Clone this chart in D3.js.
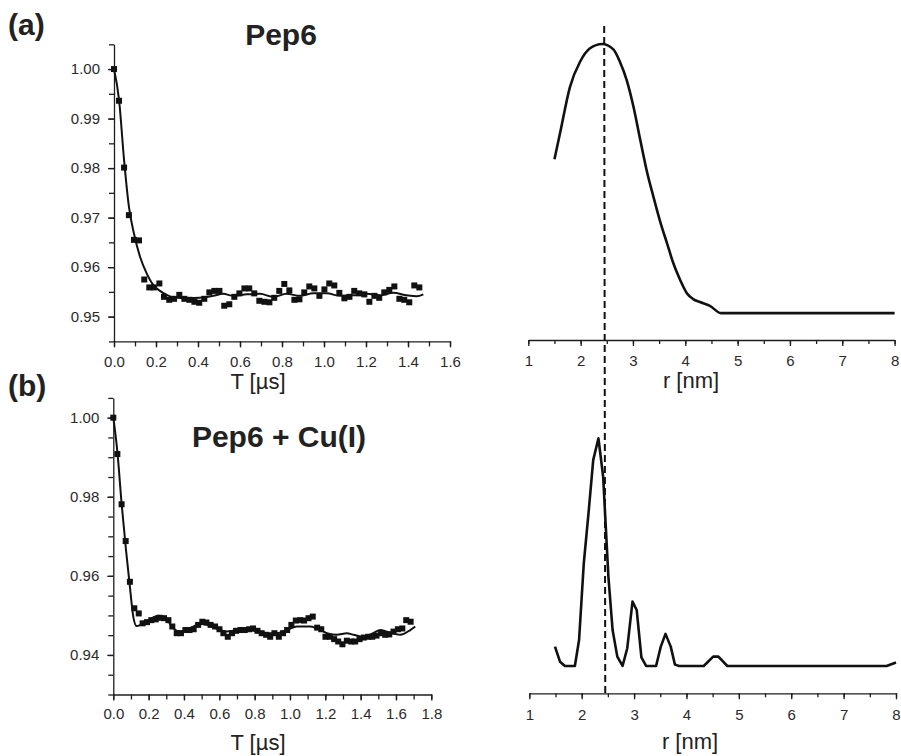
<!DOCTYPE html>
<html>
<head>
<meta charset="utf-8">
<script src="https://cdn.jsdelivr.net/npm/d3@7"></script>
<style>
  body { margin: 0; background: #fff; }
  svg { display: block; font-family: "Liberation Sans", Arial, sans-serif; }
</style>
</head>
<body>
<svg id="chart"></svg>
<script>
// ---- data ----
// (a) Pep6, time trace: measured points
const tA = [0, 0.024, 0.048, 0.071, 0.095, 0.119, 0.144, 0.168, 0.19, 0.216, 0.238, 0.263, 0.286, 0.311, 0.335, 0.359, 0.383, 0.406, 0.43, 0.454, 0.478, 0.502, 0.525, 0.549, 0.573, 0.597, 0.621, 0.644, 0.668, 0.692, 0.716, 0.74, 0.763, 0.787, 0.811, 0.835, 0.859, 0.883, 0.906, 0.93, 0.954, 0.978, 1.002, 1.025, 1.049, 1.073, 1.097, 1.121, 1.144, 1.168, 1.192, 1.216, 1.24, 1.263, 1.287, 1.311, 1.335, 1.359, 1.382, 1.406, 1.43, 1.454];
const vA = [1.000, 0.9936, 0.9801, 0.9705, 0.9655, 0.9654, 0.9575, 0.9559, 0.9559, 0.9567, 0.9540, 0.9534, 0.9536, 0.9544, 0.9536, 0.9534, 0.9530, 0.9528, 0.9536, 0.9549, 0.9552, 0.9552, 0.9522, 0.9525, 0.9540, 0.9547, 0.9557, 0.9557, 0.9547, 0.9532, 0.9530, 0.9529, 0.9538, 0.9552, 0.9566, 0.9553, 0.9534, 0.9535, 0.9549, 0.9561, 0.9557, 0.9542, 0.9555, 0.9567, 0.9563, 0.9548, 0.9537, 0.9540, 0.9552, 0.9547, 0.9545, 0.9530, 0.9542, 0.9538, 0.9549, 0.9554, 0.9561, 0.9536, 0.9534, 0.9529, 0.9563, 0.9559];
// (a) fit
const fitTA = [0, 0.024, 0.048, 0.071, 0.095, 0.124, 0.155, 0.187, 0.219, 0.251, 0.283, 0.346, 0.409, 0.473, 0.52, 0.568, 0.632, 0.695, 0.759, 0.822, 0.886, 0.949, 1.013, 1.076, 1.14, 1.203, 1.267, 1.33, 1.394, 1.441, 1.473];
const fitVA = [1.0, 0.9938, 0.9816, 0.9722, 0.9668, 0.9621, 0.9588, 0.9564, 0.9552, 0.9544, 0.9539, 0.9537, 0.9538, 0.9542, 0.9546, 0.9542, 0.9545, 0.9546, 0.9540, 0.9546, 0.9542, 0.9547, 0.9547, 0.9542, 0.9543, 0.9546, 0.9543, 0.9548, 0.9543, 0.9541, 0.9545];

// (b) Pep6 + Cu(I), time trace: measured points
const tB = [0, 0.023, 0.047, 0.07, 0.094, 0.119, 0.144, 0.166, 0.191, 0.215, 0.24, 0.263, 0.287, 0.312, 0.334, 0.359, 0.383, 0.408, 0.431, 0.455, 0.48, 0.504, 0.527, 0.551, 0.576, 0.601, 0.623, 0.648, 0.672, 0.695, 0.72, 0.744, 0.769, 0.791, 0.816, 0.84, 0.865, 0.888, 0.912, 0.937, 0.961, 0.984, 1.008, 1.033, 1.058, 1.08, 1.105, 1.129, 1.154, 1.177, 1.201, 1.226, 1.25, 1.273, 1.297, 1.322, 1.347, 1.369, 1.394, 1.418, 1.443, 1.466, 1.49, 1.515, 1.539, 1.562, 1.586, 1.611, 1.636, 1.658, 1.683];
const vB = [1.000, 0.9908, 0.9781, 0.9688, 0.9585, 0.9518, 0.9505, 0.9480, 0.9483, 0.9488, 0.9490, 0.9494, 0.9493, 0.9488, 0.9472, 0.9455, 0.9455, 0.9463, 0.9463, 0.9465, 0.9476, 0.9484, 0.9482, 0.9476, 0.9472, 0.9465, 0.9455, 0.9446, 0.9455, 0.9461, 0.9463, 0.9463, 0.9465, 0.9467, 0.9461, 0.9455, 0.9451, 0.9446, 0.9455, 0.9446, 0.9455, 0.9463, 0.9476, 0.9487, 0.9488, 0.9487, 0.9493, 0.9497, 0.9469, 0.9465, 0.9446, 0.9446, 0.9440, 0.9434, 0.9427, 0.9436, 0.9434, 0.9434, 0.9440, 0.9444, 0.9446, 0.9446, 0.9449, 0.9455, 0.9451, 0.9452, 0.9459, 0.9465, 0.9467, 0.9488, 0.9484];
// (b) fit
const fitTB = [0, 0.023, 0.047, 0.072, 0.094, 0.113, 0.132, 0.161, 0.208, 0.255, 0.293, 0.34, 0.378, 0.415, 0.472, 0.51, 0.567, 0.642, 0.718, 0.793, 0.869, 0.925, 0.982, 1.039, 1.114, 1.152, 1.209, 1.265, 1.322, 1.36, 1.416, 1.454, 1.511, 1.549, 1.624, 1.681, 1.709];
const fitVB = [1.0, 0.9914, 0.9783, 0.9665, 0.9572, 0.9497, 0.9473, 0.9478, 0.9490, 0.9499, 0.9495, 0.9467, 0.9459, 0.9462, 0.9476, 0.9478, 0.9470, 0.9459, 0.9463, 0.9462, 0.9455, 0.9455, 0.9463, 0.9472, 0.9472, 0.9467, 0.9455, 0.9451, 0.9455, 0.9451, 0.9446, 0.9451, 0.9463, 0.9459, 0.9451, 0.9463, 0.9472];

// distance distributions (normalised to peak = 1)
const rA = [1.5, 1.606, 1.797, 1.989, 2.18, 2.41, 2.625, 2.75, 2.88, 3.01, 3.14, 3.26, 3.39, 3.52, 3.65, 3.77, 3.9, 4.03, 4.15, 4.28, 4.47, 4.68, 8.0];
const pA = [0.572, 0.668, 0.841, 0.934, 0.984, 1.0, 0.98, 0.934, 0.866, 0.767, 0.643, 0.532, 0.433, 0.34, 0.26, 0.186, 0.124, 0.074, 0.052, 0.041, 0.027, 0, 0];
const rB = [1.49, 1.586, 1.68, 1.87, 1.95, 2.04, 2.13, 2.22, 2.32, 2.41, 2.51, 2.59, 2.68, 2.78, 2.87, 2.97, 3.05, 3.14, 3.23, 3.42, 3.51, 3.6, 3.7, 3.78, 3.86, 4.33, 4.51, 4.61, 4.78, 7.82, 8.0];
const pB = [0.085, 0.019, 0, 0, 0.114, 0.451, 0.67, 0.904, 1.0, 0.831, 0.392, 0.158, 0.041, 0, 0.078, 0.283, 0.246, 0.038, 0, 0, 0.085, 0.141, 0.085, 0.006, 0, 0, 0.041, 0.041, 0, 0, 0.015];

const markerR = 2.45;

const ticksTA = [0, 0.2, 0.4, 0.6, 0.8, 1.0, 1.2, 1.4, 1.6];
const ticksTB = [0, 0.2, 0.4, 0.6, 0.8, 1.0, 1.2, 1.4, 1.6, 1.8];
const ticksVA = [0.95, 0.96, 0.97, 0.98, 0.99, 1.00];
const ticksVB = [0.94, 0.96, 0.98, 1.00];
const ticksR = [1, 2, 3, 4, 5, 6, 7, 8];

// ---- layout ----
const WIDTH = 901;
const HEIGHT = 756;
const INK = '#1e1e1e';

const svg = d3.select('#chart').attr('width', WIDTH).attr('height', HEIGHT);

const xA = d3.scaleLinear().domain([0, 1.6]).range([114, 450]);
const yA = d3.scaleLinear().domain([0.945, 1.005]).range([341.4, 44.3]);
const xB = d3.scaleLinear().domain([0, 1.8]).range([113.3, 431.3]);
const yB = d3.scaleLinear().domain([0.93, 1.005]).range([694.5, 397.9]);
const xRA = d3.scaleLinear().domain([1, 8]).range([528.3, 894.6]);
const yRA = d3.scaleLinear().domain([-0.1, 1]).range([340, 44]);
const xRB = d3.scaleLinear().domain([1, 8]).range([529.3, 896]);
const yRB = d3.scaleLinear().domain([-0.12, 1]).range([693.3, 438.3]);

function minorValues(lo, hi, step) {
  const out = [];
  const n = Math.round((hi - lo) / step);
  for (let i = 0; i <= n; i++) out.push(+(lo + i * step).toFixed(4));
  return out;
}

function styleAxis(g, size) {
  g.select('.domain').attr('stroke', INK).attr('stroke-width', 1.3);
  g.selectAll('.tick line').attr('stroke', INK).attr('stroke-width', 1.3);
  g.selectAll('.tick text').attr('fill', '#2a2a2a').attr('font-size', size).attr('font-family', null);
}

function xAxisAt(x, yPos, majors, minors, fmt, pad, minorLen) {
  svg.append('g').
  attr('transform', `translate(0,${yPos})`).
  call(d3.axisBottom(x).tickValues(minors).tickSize(minorLen).tickSizeOuter(0).tickFormat('')).
  call(g => styleAxis(g, 15));
  svg.append('g').
  attr('transform', `translate(0,${yPos})`).
  call(d3.axisBottom(x).tickValues(majors).tickSize(6).tickSizeOuter(0).tickPadding(pad).tickFormat(fmt)).
  call(g => styleAxis(g, 15)).
  call(g => g.select('.domain').remove());
}

function yAxisAt(y, xPos, majors, minors) {
  svg.append('g').
  attr('transform', `translate(${xPos},0)`).
  call(d3.axisLeft(y).tickValues(minors).tickSize(5).tickSizeOuter(0).tickFormat('')).
  call(g => styleAxis(g, 15));
  svg.append('g').
  attr('transform', `translate(${xPos},0)`).
  call(d3.axisLeft(y).tickValues(majors).tickSize(6).tickSizeOuter(0).tickPadding(8).tickFormat(d3.format('.2f'))).
  call(g => styleAxis(g, 15)).
  call(g => g.select('.domain').remove());
}

/* --AXES-- */
xAxisAt(xA, 341.4, ticksTA, minorValues(0, 1.6, 0.1), d3.format('.1f'), 9, 5);
yAxisAt(yA, 114, ticksVA, minorValues(0.945, 1.005, 0.005));
xAxisAt(xB, 694.5, ticksTB, minorValues(0, 1.8, 0.1), d3.format('.1f'), 8, 5);
yAxisAt(yB, 113.3, ticksVB, minorValues(0.93, 1.005, 0.005));
xAxisAt(xRA, 340, ticksR, minorValues(1, 8, 0.5), d3.format('d'), 9, 4);
xAxisAt(xRB, 693.3, ticksR, minorValues(1, 8, 0.5), d3.format('d'), 10.5, 4);

/* --DATA-- */
function squares(t, v, x, y) {
  svg.append('g').selectAll('rect').
  data(t.map((d, i) => ({ t: d, v: v[i] }))).
  enter().append('rect').
  attr('x', d => x(d.t) - 3).
  attr('y', d => y(d.v) - 3).
  attr('width', 6).
  attr('height', 6).
  attr('fill', '#111');
}

function curve(xs, ys, x, y, width, shape) {
  const line = d3.line().x(d => x(d[0])).y(d => y(d[1])).curve(shape);
  svg.append('path').
  attr('d', line(xs.map((d, i) => [d, ys[i]]))).
  attr('fill', 'none').
  attr('stroke', '#111').
  attr('stroke-width', width).
  attr('stroke-linejoin', 'round');
}

squares(tA, vA, xA, yA);
curve(fitTA, fitVA, xA, yA, 2, d3.curveMonotoneX);
squares(tB, vB, xB, yB);
curve(fitTB, fitVB, xB, yB, 2, d3.curveMonotoneX);

curve(rA, pA, xRA, yRA, 2.6, d3.curveMonotoneX);
curve(rB, pB, xRB, yRB, 2.6, d3.curveLinear);

// dashed marker spanning both distance panels
svg.append('line').
attr('x1', xRA(markerR)).
attr('y1', 26).
attr('x2', xRB(markerR)).
attr('y2', 693).
attr('stroke', '#111').
attr('stroke-width', 2).
attr('stroke-dasharray', '7,4');

/* --TEXT-- */
const texts = [
{ s: '(a)', x: 8, y: 35, size: 30, bold: true, anchor: 'start' },
{ s: '(b)', x: 8, y: 396, size: 30, bold: true, anchor: 'start' },
{ s: 'Pep6', x: 281, y: 45, size: 30, bold: true, anchor: 'middle' },
{ s: 'Pep6 + Cu(I)', x: 279, y: 447, size: 30, bold: true, anchor: 'middle' },
{ s: 'T [\u00b5s]', x: 258, y: 389, size: 22, bold: false, anchor: 'middle' },
{ s: 'T [\u00b5s]', x: 258, y: 750, size: 22, bold: false, anchor: 'middle' },
{ s: 'r [nm]', x: 691, y: 388, size: 22, bold: false, anchor: 'middle' },
{ s: 'r [nm]', x: 690, y: 749, size: 22, bold: false, anchor: 'middle' }];


svg.append('g').selectAll('text').
data(texts).
enter().append('text').
attr('x', d => d.x).
attr('y', d => d.y).
attr('text-anchor', d => d.anchor).
attr('font-size', d => d.size).
attr('font-weight', d => d.bold ? 'bold' : 'normal').
attr('fill', '#222').
text(d => d.s);
</script>
</body>
</html>
